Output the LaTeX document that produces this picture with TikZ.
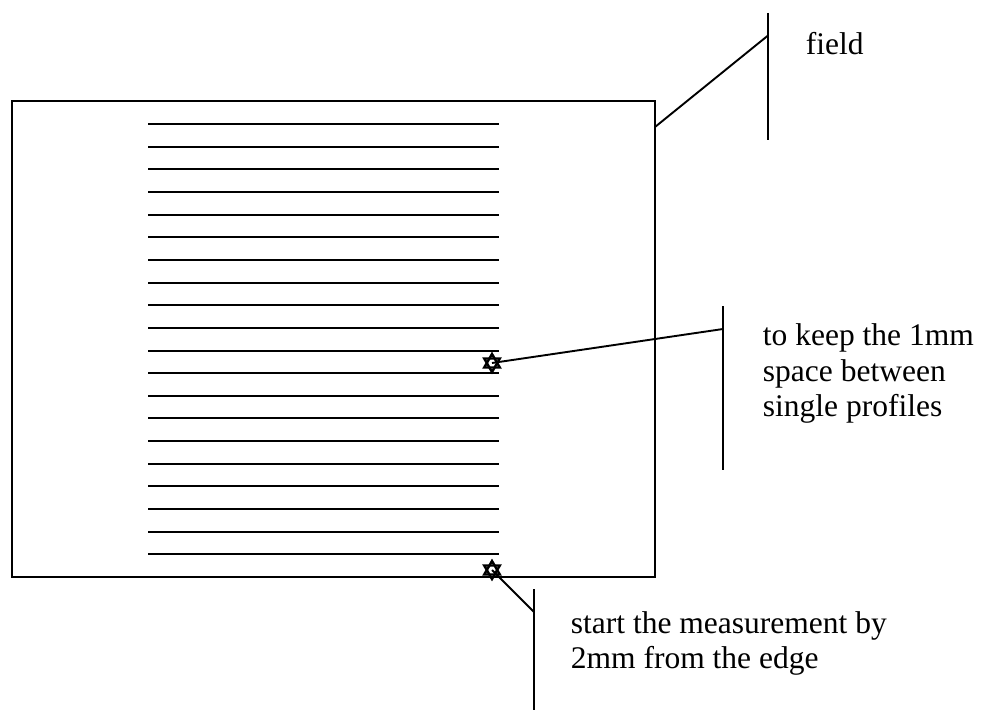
\documentclass[tikz,border=0pt]{standalone}
\usepackage{fontspec}
\setmainfont{Liberation Serif}
\usetikzlibrary{shapes}

\begin{document}
\begin{tikzpicture}[x=1pt, y=-1pt, line width=1.9pt]

	\tikzstyle{note}=[anchor=north west, inner sep=0pt, align=left, font=\fontsize{31.5}{35.5}\selectfont]
	\tikzstyle{marker}=[regular polygon, regular polygon sides=3, draw, line width=2.4pt, minimum size=18pt, inner sep=0pt]
	\tikzstyle{profile}=[line width=2pt]
	\useasboundingbox (0,0) rectangle (981,711);

	% the field and its profiles
	\node[draw, minimum width=643pt, minimum height=476pt, inner sep=0pt, outer sep=0pt] (field) at (333.5,339) {};
	\foreach \i in {0,...,19}
		\draw[profile] (148,124+22.65*\i) -- (499,124+22.65*\i);

	% the two marks
	\node[marker] (m1) at (492,363) {};
	\node[marker, shape border rotate=180] (m1b) at (492,363) {};
	\node[marker] (m2) at (492,570) {};
	\node[marker, shape border rotate=180] (m2b) at (492,570) {};

	% the texts
	\node[note] (ftext) at (805,31.3) {field};
	\node[note] (ktext) at (762,323) {to keep the 1mm\\space between\\single profiles};
	\node[note] (stext) at (570,610.5) {start the measurement by\\2mm from the edge};

	% the bars
	\coordinate (ftop) at (768,13);
	\coordinate (fbot) at (768,140);
	\coordinate (fjoin) at (768,35.5);
	\coordinate (ktop) at (723,306);
	\coordinate (kbot) at (723,470);
	\coordinate (kjoin) at (723,329);
	\coordinate (stop) at (534,589);
	\coordinate (sbot) at (534,710);
	\coordinate (sjoin) at (534,612);
	\draw (ftop) -- (fbot);
	\draw (ktop) -- (kbot);
	\draw (stop) -- (sbot);

	% From the marks and the field to the bars
	\draw ([yshift=-26pt]field.north east) -- (fjoin);
	\draw (m1.center) -- (kjoin);
	\draw (m2.center) -- (sjoin);

\end{tikzpicture}
\end{document}
